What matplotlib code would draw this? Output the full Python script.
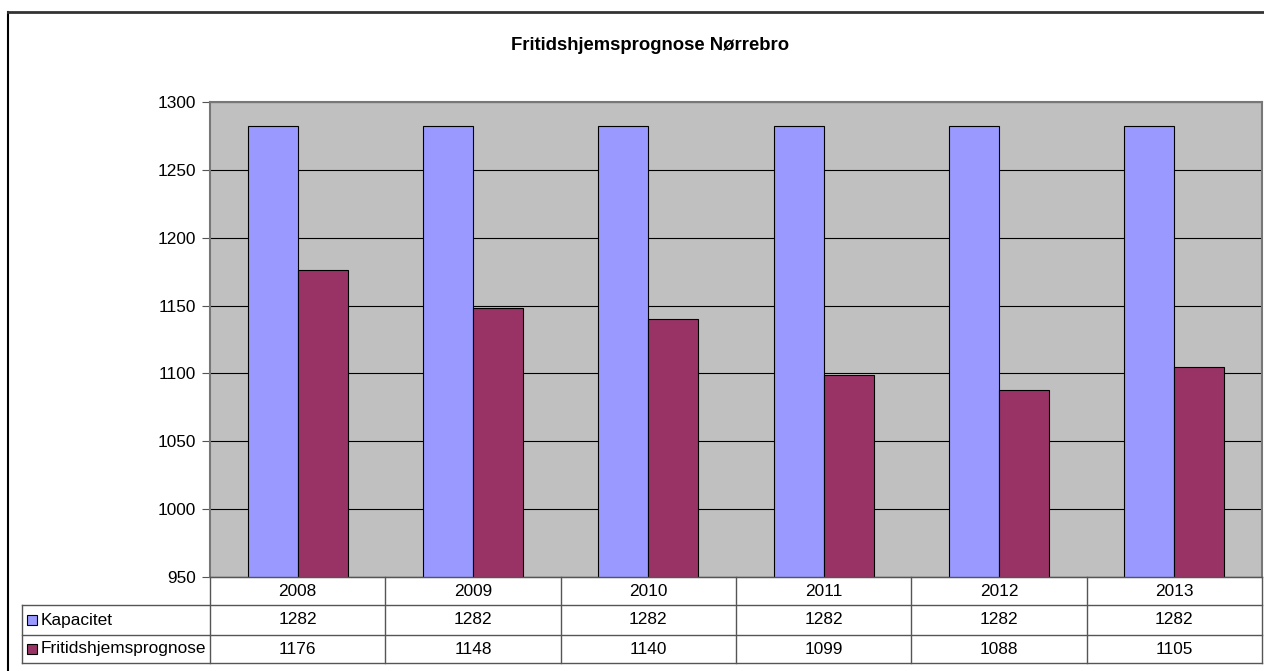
import matplotlib
matplotlib.use("Agg")
import matplotlib.pyplot as plt
from matplotlib.patches import Rectangle
from matplotlib.lines import Line2D
import numpy as np

plt.rcParams['font.family'] = ['Liberation Sans', 'DejaVu Sans']

# data
years = ['2008', '2009', '2010', '2011', '2012', '2013']
kapacitet = [1282, 1282, 1282, 1282, 1282, 1282]
prognose = [1176, 1148, 1140, 1099, 1088, 1105]
series_names = ['Kapacitet', 'Fritidshjemsprognose']
colors = ['#9999FF', '#993366']

W, H = 1264, 671
fig = plt.figure(figsize=(W / 100, H / 100), dpi=100)

# pixel helpers
def fx(px):
    return px / W

def fy(py):
    return 1 - py / H

fs = 12.4

# outer chart frame (left and top visible)
fig.add_artist(Line2D([fx(8), fx(8)], [fy(12), fy(671)], color='black', lw=1.5))
fig.add_artist(Line2D([fx(8), fx(1264)], [fy(12), fy(12)], color='#333333', lw=2))

left, top, right, bottom = 210, 102, 1262, 577
ax = fig.add_axes([fx(left), fy(bottom), fx(right - left), (bottom - top) / H])
ax.set_facecolor('#C0C0C0')

x = np.arange(len(years))
bw = 0.285
ax.bar(x - bw / 2, kapacitet, bw, color=colors[0], edgecolor='black', linewidth=0.8, zorder=3)
ax.bar(x + bw / 2, prognose, bw, color=colors[1], edgecolor='black', linewidth=0.8, zorder=3)

ax.set_xlim(-0.5, len(years) - 0.5)
ax.set_ylim(950, 1300)
ax.set_yticks(np.arange(950, 1301, 50))
ax.yaxis.grid(True, color='black', linewidth=0.8, zorder=1)
ax.set_axisbelow(True)
ax.set_xticks([])
ax.tick_params(axis='y', length=6, width=0.8, color='#555555', labelsize=fs, pad=4)
for side in ['left', 'top', 'right']:
    ax.spines[side].set_color('#777777')
    ax.spines[side].set_linewidth(1.5)
ax.spines['bottom'].set_color('#777777')

fig.text(fx(650), fy(45), 'Fritidshjemsprognose Nørrebro', ha='center', va='center',
         fontsize=13.3, fontweight='bold')

# data table below the plot
colw = (right - left) / len(years)
row_y = [577, 605, 635, 663]
lc = '#555555'
# horizontal lines
fig.add_artist(Line2D([fx(left), fx(right)], [fy(row_y[0]), fy(row_y[0])], color=lc, lw=1))
for ry in row_y[1:]:
    fig.add_artist(Line2D([fx(22), fx(right)], [fy(ry), fy(ry)], color=lc, lw=1))
# vertical lines
fig.add_artist(Line2D([fx(22), fx(22)], [fy(row_y[1]), fy(row_y[3])], color=lc, lw=1))
for i in range(len(years) + 1):
    vx = left + i * colw
    fig.add_artist(Line2D([fx(vx), fx(vx)], [fy(row_y[0]), fy(row_y[3])], color=lc, lw=1))

for i, yr in enumerate(years):
    cx = left + (i + 0.5) * colw
    fig.text(fx(cx), fy((row_y[0] + row_y[1]) / 2), yr, ha='center', va='center', fontsize=fs)
    fig.text(fx(cx), fy((row_y[1] + row_y[2]) / 2), str(kapacitet[i]), ha='center', va='center', fontsize=fs)
    fig.text(fx(cx), fy((row_y[2] + row_y[3]) / 2), str(prognose[i]), ha='center', va='center', fontsize=fs)

for j, (name, c) in enumerate(zip(series_names, colors)):
    cy = (row_y[j + 1] + row_y[j + 2]) / 2
    fig.add_artist(Rectangle((fx(27), fy(cy + 5)), 10 / W, 10 / H, facecolor=c,
                             edgecolor='black', lw=0.8, transform=fig.transFigure))
    fig.text(fx(41), fy(cy), name, ha='left', va='center', fontsize=fs)

fig.savefig('out.png', dpi=100)
